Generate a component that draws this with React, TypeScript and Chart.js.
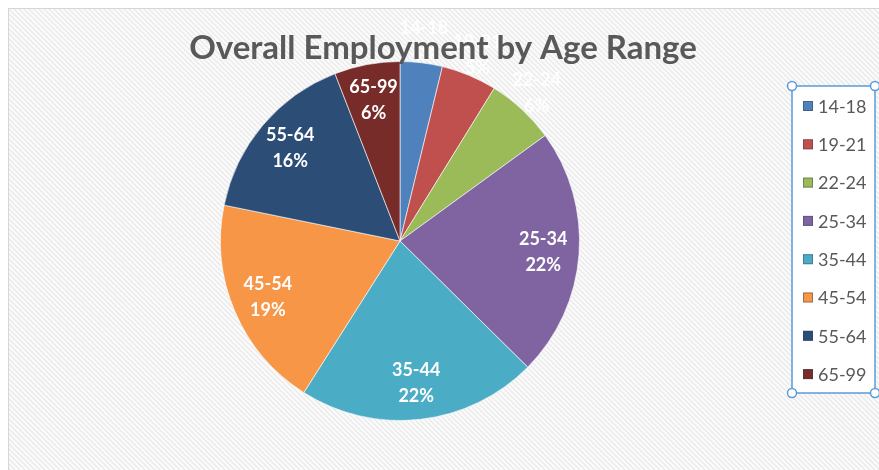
import React, { useEffect, useRef } from "react";
import { Chart, registerables } from "chart.js";

Chart.register(...registerables);

const categories = ["14-18", "19-21", "22-24", "25-34", "35-44", "45-54", "55-64", "65-99"];
const employmentShare = [3.8, 5.0, 6.2, 22.4, 21.6, 19.2, 15.9, 5.9];
const sliceColors = ["#4F81BD", "#C0504D", "#9BBB59", "#8064A2", "#4BACC6", "#F79646", "#2C4D75", "#772C2A"];
const titleText = "Overall Employment by Age Range";
const insideLabel = [false, false, false, true, true, true, true, true];

const W = 879;
const H = 470;

const backgroundPlugin = {
  id: "bgHatch",
  beforeDraw(chart: any) {
    const ctx = chart.ctx as CanvasRenderingContext2D;
    ctx.save();
    ctx.fillStyle = "#ffffff";
    ctx.fillRect(0, 0, W, H);
    ctx.beginPath();
    ctx.rect(8, 8, W - 8, H - 8);
    ctx.clip();
    ctx.fillStyle = "#fbfbfb";
    ctx.fillRect(8, 8, W - 8, H - 8);
    ctx.strokeStyle = "#e9e9e9";
    ctx.lineWidth = 1.3;
    for (let x = -H; x < W + H; x += 5) {
      ctx.beginPath();
      ctx.moveTo(x, 0);
      ctx.lineTo(x + H, H);
      ctx.stroke();
    }
    ctx.restore();
    ctx.save();
    ctx.strokeStyle = "#d6d6d6";
    ctx.lineWidth = 1;
    ctx.beginPath();
    ctx.moveTo(8.5, H);
    ctx.lineTo(8.5, 8.5);
    ctx.lineTo(W, 8.5);
    ctx.stroke();
    ctx.restore();
  },
};

const titlePlugin = {
  id: "titleText",
  afterDraw(chart: any) {
    const ctx = chart.ctx as CanvasRenderingContext2D;
    ctx.save();
    ctx.font = "bold 33px Lato";
    ctx.fillStyle = "#595959";
    ctx.textAlign = "center";
    ctx.textBaseline = "middle";
    ctx.fillText(titleText, 443, 48);
    ctx.restore();
  },
};

const labelPlugin = {
  id: "sliceLabels",
  afterDatasetsDraw(chart: any) {
    const ctx = chart.ctx as CanvasRenderingContext2D;
    const meta = chart.getDatasetMeta(0);
    const data = chart.data.datasets[0].data as number[];
    const total = data.reduce((a, b) => a + b, 0);
    ctx.save();
    ctx.font = "bold 18px Lato";
    ctx.textAlign = "center";
    ctx.textBaseline = "middle";
    meta.data.forEach((arc: any, i: number) => {
      const p = arc.getProps(["x", "y", "startAngle", "endAngle", "outerRadius"], true);
      const mid = (p.startAngle + p.endAngle) / 2;
      const r = p.outerRadius * (insideLabel[i] ? 0.8 : 1.12);
      const cx = p.x + Math.cos(mid) * r;
      const cy = p.y + Math.sin(mid) * r;
      const pct = Math.round((data[i] / total) * 100) + "%";
      ctx.fillStyle = insideLabel[i] ? "#ffffff" : "rgba(255,255,255,0.85)";
      ctx.fillText(String(chart.data.labels[i]), cx, cy - 13);
      ctx.fillText(pct, cx, cy + 13);
    });
    ctx.restore();
  },
};

const legendPlugin = {
  id: "customLegend",
  afterDraw(chart: any) {
    const ctx = chart.ctx as CanvasRenderingContext2D;
    const x0 = 792, y0 = 86, x1 = 875, y1 = 393;
    ctx.save();
    ctx.fillStyle = "#ffffff";
    ctx.fillRect(x0, y0, x1 - x0, y1 - y0);
    ctx.strokeStyle = "#5B9BD5";
    ctx.lineWidth = 1.5;
    ctx.strokeRect(x0, y0, x1 - x0, y1 - y0);
    const labels = chart.data.labels as string[];
    const colors = chart.data.datasets[0].backgroundColor as string[];
    ctx.font = "18px Lato";
    ctx.textBaseline = "middle";
    ctx.textAlign = "left";
    labels.forEach((lab, i) => {
      const cy = 106 + i * 38.3;
      ctx.fillStyle = colors[i];
      ctx.fillRect(803, cy - 5, 10, 10);
      ctx.strokeStyle = "rgba(60,60,90,0.45)";
      ctx.lineWidth = 1;
      ctx.strokeRect(803.5, cy - 4.5, 9, 9);
      ctx.fillStyle = "#595959";
      ctx.fillText(lab, 818, cy + 1);
    });
    const corners = [[x0, y0], [x1, y0], [x0, y1], [x1, y1]];
    corners.forEach(([hx, hy]) => {
      ctx.beginPath();
      ctx.arc(hx, hy, 4.5, 0, Math.PI * 2);
      ctx.fillStyle = "#ffffff";
      ctx.fill();
      ctx.strokeStyle = "#5B9BD5";
      ctx.lineWidth = 1.5;
      ctx.stroke();
    });
    ctx.restore();
  },
};

export default function App() {
  const ref = useRef<HTMLCanvasElement | null>(null);
  useEffect(() => {
    if (!ref.current) return;
    const chart = new Chart(ref.current, {
      type: "pie",
      data: {
        labels: categories,
        datasets: [
          {
            data: employmentShare,
            backgroundColor: sliceColors,
            borderColor: "rgba(255,255,255,0.6)",
            borderWidth: 1,
          },
        ],
      },
      options: {
        responsive: false,
        animation: false,
        devicePixelRatio: 1,
        layout: { padding: { left: 220, right: 299, top: 61, bottom: 49 } },
        plugins: {
          legend: { display: false },
          title: { display: false },
          tooltip: { enabled: false },
        },
      },
      plugins: [backgroundPlugin, titlePlugin, labelPlugin, legendPlugin],
    });
    return () => chart.destroy();
  }, []);
  return (
    <div style={{ position: "fixed", left: 0, top: 0, width: W, height: H }}>
      <canvas ref={ref} width={W} height={H} style={{ width: W, height: H, display: "block" }} />
    </div>
  );
}
